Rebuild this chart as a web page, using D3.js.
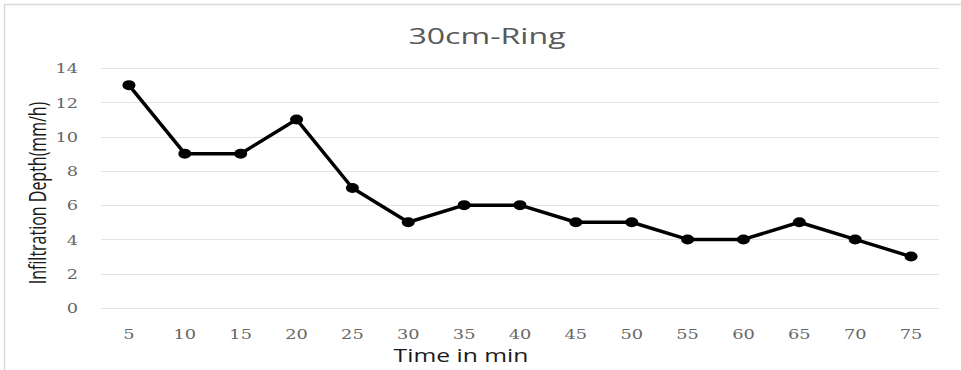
<!DOCTYPE html>
<html><head><meta charset="utf-8">
<script src="https://cdn.jsdelivr.net/npm/d3@7"></script>
<style>body{margin:0;background:#fff}svg{display:block}</style>
</head><body>
<svg id="c" width="961" height="370"></svg>
<script>
const categories = ["5","10","15","20","25","30","35","40","45","50","55","60","65","70","75"];
const values = [13,9,9,11,7,5,6,6,5,5,4,4,5,4,3];
const yTicks = [0,2,4,6,8,10,12,14];
const title = "30cm-Ring";
const xTitle = "Time in min";
const yTitle = "Infiltration Depth(mm/h)";

const SX = 1.42;
const svg = d3.select("#c");
svg.append("rect").attr("x",4.5).attr("y",4.5).attr("width",970).attr("height",400)
  .attr("fill","#fff").attr("stroke","#d9d9d9").attr("stroke-width",1.5);

const x = d3.scaleBand().domain(categories).range([101,939]);
const y = d3.scaleLinear().domain([0,14]).range([308,68]);

const g = svg.append("g");
g.selectAll("line.grid").data(yTicks).join("line").attr("class","grid")
  .attr("x1",101).attr("x2",939).attr("y1",d=>Math.round(y(d))+0.5).attr("y2",d=>Math.round(y(d))+0.5)
  .attr("stroke","#e3e3e3").attr("stroke-width",1.2);

const tickFont = "DejaVu Serif, serif";
const yAxis = d3.axisLeft(y).tickValues(yTicks).tickSize(0).tickPadding(0);
g.append("g").attr("transform","translate(78,0)").call(yAxis)
  .call(a=>a.select(".domain").remove())
  .selectAll("text").attr("fill","#666").style("font-family",tickFont).style("font-size","12.5px")
  .attr("dy","0.38em").attr("transform",`scale(${SX},1)`);

const xAxis = d3.axisBottom(x).tickSize(0).tickPadding(0);
g.append("g").attr("transform","translate(0,330)").call(xAxis)
  .call(a=>a.select(".domain").remove())
  .selectAll("text").attr("fill","#666").style("font-family",tickFont).style("font-size","12.5px")
  .attr("dy","0.71em").attr("transform",`scale(${SX},1)`);

const line = d3.line().x((d,i)=>x(categories[i])+x.bandwidth()/2).y(d=>y(d));
g.append("path").datum(values).attr("d",line).attr("fill","none").attr("stroke","#000").attr("stroke-width",3.5).attr("stroke-linejoin","round");
g.selectAll("ellipse").data(values).join("ellipse")
  .attr("cx",(d,i)=>x(categories[i])+x.bandwidth()/2).attr("cy",d=>y(d))
  .attr("rx",6.5).attr("ry",5).attr("fill","#000");

svg.append("g").attr("transform",`translate(487,44) scale(1.46,1)`).append("text").attr("text-anchor","middle")
  .attr("fill","#595959").style("font-family","Open Sans, sans-serif").style("font-size","22px").text(title);
svg.append("g").attr("transform",`translate(461,362) scale(1.37,1)`).append("text").attr("text-anchor","middle")
  .attr("fill","#1a1a1a").style("font-family","Open Sans, sans-serif").style("font-size","18px").text(xTitle);
svg.append("g").attr("transform",`translate(46,193) scale(${SX},1) rotate(-90)`).append("text").attr("text-anchor","middle")
  .attr("fill","#1a1a1a").style("font-family","Open Sans, sans-serif").style("font-size","16px").text(yTitle);
</script>
</body></html>
